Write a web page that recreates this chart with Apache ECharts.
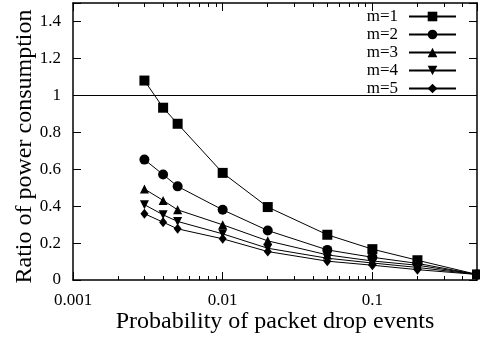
<!DOCTYPE html>
<html>
<head>
<meta charset="utf-8">
<script src="https://cdn.jsdelivr.net/npm/echarts@6/dist/echarts.min.js"></script>
<style>
  html, body { margin: 0; padding: 0; background: #fff; }
  #chart { width: 480px; height: 341px; }
</style>
</head>
<body>
<div id="chart"></div>
<script>
// probability of packet drop events (x, log scale)
const probs = [0.003, 0.004, 0.005, 0.01, 0.02, 0.05, 0.1, 0.2, 0.5];
const seriesNames = ['m=1', 'm=2', 'm=3', 'm=4', 'm=5'];
// ratio of power consumption
const m1 = [1.08, 0.933, 0.846, 0.58, 0.395, 0.245, 0.167, 0.107, 0.03];
const m2 = [0.652, 0.571, 0.507, 0.38, 0.268, 0.163, 0.123, 0.09, 0.03];
const m3 = [0.493, 0.431, 0.38, 0.299, 0.212, 0.136, 0.103, 0.08, 0.03];
const m4 = [0.408, 0.353, 0.317, 0.25, 0.172, 0.118, 0.092, 0.068, 0.03];
const m5 = [0.359, 0.313, 0.277, 0.223, 0.154, 0.102, 0.08, 0.056, 0.03];
// tick labels
const xMajorTicks = [0.001, 0.01, 0.1];
const yTicks = [0, 0.2, 0.4, 0.6, 0.8, 1, 1.2, 1.4];
const refLine = 1;

const allValues = [m1, m2, m3, m4, m5];
const symbols = ['rect', 'circle', 'triangle', 'path://M0,0 L10,0 L5,9 Z', 'diamond'];
const symbolSizes = [10, 10, 9, 9, [8, 10]];

const font = 'Liberation Serif';
const xBase = {
  type: 'log', logBase: 10, min: 0.001, max: 0.5,
  splitLine: { show: false },
  axisLine: { show: true, onZero: false, lineStyle: { color: '#000', width: 1.5 } },
  axisTick: { show: true, inside: true, length: 8, lineStyle: { color: '#000' } },
  minorTick: { show: true, splitNumber: 9, length: 4, lineStyle: { color: '#000' } },
};
const yBase = {
  type: 'value', min: 0, max: 1.5, interval: 0.2,
  splitLine: { show: false },
  axisLine: { show: true, onZero: false, lineStyle: { color: '#000', width: 1.5 } },
  axisTick: { show: true, inside: true, length: 8, lineStyle: { color: '#000' } },
};

const myChart = echarts.init(document.getElementById('chart'));
myChart.setOption({
  animation: false,
  backgroundColor: '#fff',
  grid: { left: 73, right: 3, top: 3, bottom: 61, containLabel: false, outerBoundsMode: 'none' },
  legend: {
    orient: 'vertical',
    right: 18,
    top: 3,
    align: 'right',
    itemWidth: 47,
    itemHeight: 12,
    itemGap: 1,
    data: seriesNames,
    textStyle: { fontFamily: font, fontSize: 17, lineHeight: 14, color: '#000', padding: [0, 6, 0, 0] },
  },
  xAxis: [
    {
      ...xBase,
      position: 'bottom',
      name: 'Probability of packet drop events',
      nameLocation: 'middle',
      nameGap: 30,
      nameMoveOverlap: false,
      nameTextStyle: { fontFamily: font, fontSize: 24, color: '#000' },
      axisLabel: {
        margin: 12,
        fontFamily: font, fontSize: 17, color: '#000',
        formatter: (v) => (xMajorTicks.indexOf(+(+v).toPrecision(3)) >= 0 ? String(+(+v).toPrecision(3)) : ''),
      },
    },
    {
      ...xBase,
      position: 'top',
      axisLabel: { show: false },
    },
  ],
  yAxis: [
    {
      ...yBase,
      position: 'left',
      name: 'Ratio of power consumption',
      nameLocation: 'middle',
      nameGap: 36,
      nameMoveOverlap: false,
      nameTextStyle: { fontFamily: font, fontSize: 24, color: '#000', padding: [0, 10, 0, 0] },
      axisLabel: {
        margin: 12,
        fontFamily: font, fontSize: 17, color: '#000',
        formatter: (v) => {
          const s = +(+v).toFixed(1);
          return yTicks.indexOf(s) >= 0 ? String(s) : '';
        },
      },
    },
    {
      ...yBase,
      position: 'right',
      axisLabel: { show: false },
    },
  ],
  series: seriesNames.map((name, i) => ({
    name: name,
    type: 'line',
    xAxisIndex: 0,
    yAxisIndex: 0,
    data: probs.map((p, j) => [p, allValues[i][j]]),
    symbol: symbols[i],
    symbolSize: symbolSizes[i],
    showAllSymbol: true,
    color: '#000',
    itemStyle: { color: '#000' },
    lineStyle: { color: '#000', width: 1 },
    markLine: i === 0 ? {
      silent: true,
      symbol: 'none',
      label: { show: false },
      lineStyle: { color: '#000', width: 1, type: 'solid' },
      data: [{ yAxis: refLine }],
    } : undefined,
  })),
});
window.onresize = function () {
  myChart.resize();
};
</script>
</body>
</html>
